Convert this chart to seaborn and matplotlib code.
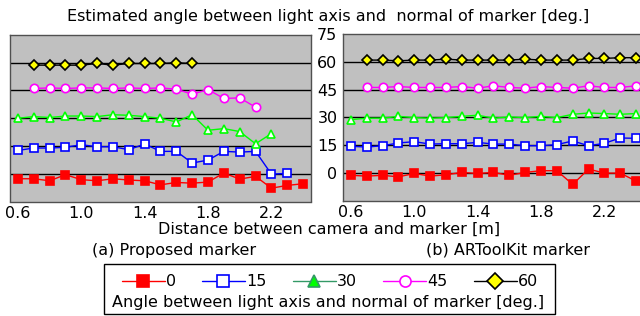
import numpy as np
import pandas as pd
import seaborn as sns
import matplotlib
matplotlib.use("Agg")
import matplotlib.pyplot as plt
from matplotlib.lines import Line2D
from matplotlib.patches import Rectangle

nan = np.nan

# distance between camera and marker [m]
dist = [0.6, 0.7, 0.8, 0.9, 1.0, 1.1, 1.2, 1.3, 1.4, 1.5,
        1.6, 1.7, 1.8, 1.9, 2.0, 2.1, 2.2, 2.3, 2.4]

# (a) proposed marker - estimated angle [deg.]
prop_0 = [-2.7, -2.7, -3.8, -0.5, -3.2, -3.8, -2.7, -3.4, -3.8, -6.0,
          -4.7, -5.1, -4.5, 0.4, -2.9, -1.4, -7.8, -6.3, -5.4]
prop_15 = [12.6, 13.9, 13.9, 14.3, 15.7, 14.6, 14.6, 13.0, 16.1, 12.1,
           12.1, 5.8, 7.4, 12.1, 11.7, 12.1, -0.2, 0.2, nan]
prop_30 = [30.0, 30.9, 30.4, 31.2, 31.2, 30.9, 31.9, 31.6, 30.9, 30.0,
           28.0, 31.9, 23.5, 24.4, 22.8, 16.2, 21.7, nan, nan]
prop_45 = [nan, 46.1, 46.4, 46.1, 46.4, 46.4, 46.1, 46.4, 46.1, 46.4,
           45.7, 43.0, 45.5, 40.7, 41.0, 36.0, nan, nan, nan]
prop_60 = [nan, 58.7, 58.7, 58.7, 58.7, 59.6, 58.7, 59.6, 59.6, 59.6,
           60.0, 59.6, nan, nan, nan, nan, nan, nan, nan]

# (b) ARToolKit marker - estimated angle [deg.]
art_0 = [-1.4, -1.8, -1.4, -2.2, -0.4, -1.8, -1.1, 0.2, -0.4, 0.2,
         -1.4, 0.2, 1.1, 1.1, -6.3, 2.0, -0.2, -0.2, -4.5]
art_15 = [14.3, 13.9, 14.6, 16.1, 16.8, 15.5, 15.7, 15.7, 16.4, 15.5,
          15.5, 14.6, 14.6, 15.2, 17.2, 14.6, 15.9, 18.8, 18.6]
art_30 = [28.7, 29.5, 29.5, 30.5, 29.8, 29.5, 29.8, 30.5, 31.1, 29.5,
          30.2, 29.8, 30.5, 29.8, 31.6, 32.3, 32.0, 31.6, 32.0]
art_45 = [nan, 46.1, 46.1, 46.6, 46.1, 46.1, 46.1, 46.6, 45.7, 47.0,
          46.1, 45.7, 46.6, 46.1, 45.7, 47.0, 46.1, 46.1, 47.0]
art_60 = [nan, 60.9, 60.9, 60.5, 60.9, 60.9, 61.4, 60.9, 60.9, 60.9,
          60.9, 61.4, 60.9, 60.9, 60.9, 61.8, 61.8, 62.2, 62.2]

labels = ["0", "15", "30", "45", "60"]
tick_labels = {0.6: "0.6", 1.0: "1.0", 1.4: "1.4", 1.8: "1.8", 2.2: "2.2"}

# marker styles per series: marker, line color, edge color, face color
styles = [
    ("s", "#ff0000", "#ff0000", "#ff0000"),
    ("s", "#0000ff", "#0000ff", "white"),
    ("^", "#00ff00", "#00ff00", "white"),
    ("o", "#ff00ff", "#ff00ff", "white"),
    ("D", "#000000", "#000000", "#ffff00"),
]

sns.set_style("white")
plt.rcParams["font.family"] = ["DejaVu Sans"]
plt.rcParams["text.color"] = "black"
plt.rcParams["xtick.color"] = "black"
plt.rcParams["ytick.color"] = "black"
FS = 11.5

fig = plt.figure(figsize=(6.4, 3.16), dpi=100)
ax1 = fig.add_axes([10 / 640, 1 - 201.5 / 316, 301 / 640, 166.5 / 316])
ax2 = fig.add_axes([343 / 640, 1 - 200.5 / 316, 301 / 640, 166.5 / 316])


def draw(ax, series):
    ax.set_facecolor("#c0c0c0")
    for y in [0, 15, 30, 45, 60]:
        ax.axhline(y, color="black", lw=1, zorder=1)
    for vals, (m, lc, ec, fc) in zip(series, styles):
        df = pd.DataFrame({"dist": dist, "angle": vals}).dropna()
        ms = 6 if m != "D" else 5.5
        sns.lineplot(data=df, x="dist", y="angle", ax=ax, color=lc, lw=1,
                     marker=m, markersize=ms, markeredgecolor=ec,
                     markerfacecolor=fc, markeredgewidth=1.2, zorder=3)
    ax.set_xlim(0.55, 2.45)
    ax.set_ylim(-15, 75)
    ax.set_xticks(dist)
    ax.set_xticklabels([tick_labels.get(d, "") for d in dist], fontsize=FS)
    ax.tick_params(axis="x", direction="in", length=4, width=1,
                   color="#404040", labelcolor="black", pad=3)
    ax.set_yticks([0, 15, 30, 45, 60, 75])
    ax.set_xlabel("")
    ax.set_ylabel("")
    for s in ax.spines.values():
        s.set_color("#505050")
        s.set_linewidth(1)


draw(ax1, [prop_0, prop_15, prop_30, prop_45, prop_60])
draw(ax2, [art_0, art_15, art_30, art_45, art_60])
ax1.tick_params(axis="y", length=0, labelleft=False)
ax2.tick_params(axis="y", length=0, labelsize=FS, labelcolor="black", pad=4)

fig.text(0.5125, 0.949, "Estimated angle between light axis and  normal of marker [deg.]",
         ha="center", va="center", fontsize=FS, color="black")
fig.text(0.514, 1 - 229 / 316, "Distance between camera and marker [m]",
         ha="center", va="center", fontsize=FS, color="black")
fig.text(174 / 640, 1 - 250 / 316, "(a) Proposed marker",
         ha="center", va="center", fontsize=FS, color="black")
fig.text(508 / 640, 1 - 250 / 316, "(b) ARToolKit marker",
         ha="center", va="center", fontsize=FS, color="black")

# legend
leg_face = ["#ff0000", "white", "#00ff00", "white", "#ffff00"]
leg_line = ["#ff0000", "#0000ff", "#339966", "#ff00ff", "#000000"]
leg_edge = ["#ff0000", "#0000ff", "#339966", "#ff00ff", "#000000"]
handles = [Line2D([], [], color=lc, lw=1, marker=st[0], markersize=8,
                  markerfacecolor=fc, markeredgecolor=ec, markeredgewidth=1.2)
           for st, lc, fc, ec in zip(styles, leg_line, leg_face, leg_edge)]
leg = fig.legend(handles, labels, ncol=5, loc="center",
                 bbox_to_anchor=(330 / 640, 1 - 282 / 316), frameon=False,
                 fontsize=FS, handlelength=2.7, handletextpad=0.1,
                 columnspacing=1.6, borderpad=0)
for t in leg.get_texts():
    t.set_color("black")
fig.text(328 / 640, 1 - 302 / 316,
         "Angle between light axis and normal of marker [deg.]",
         ha="center", va="center", fontsize=FS, color="black")
fig.patches.append(Rectangle((104 / 640, 1 - 314 / 316), 451 / 640, 50 / 316,
                             transform=fig.transFigure, fill=False,
                             edgecolor="black", lw=1))

fig.savefig("out.png", dpi=100)
